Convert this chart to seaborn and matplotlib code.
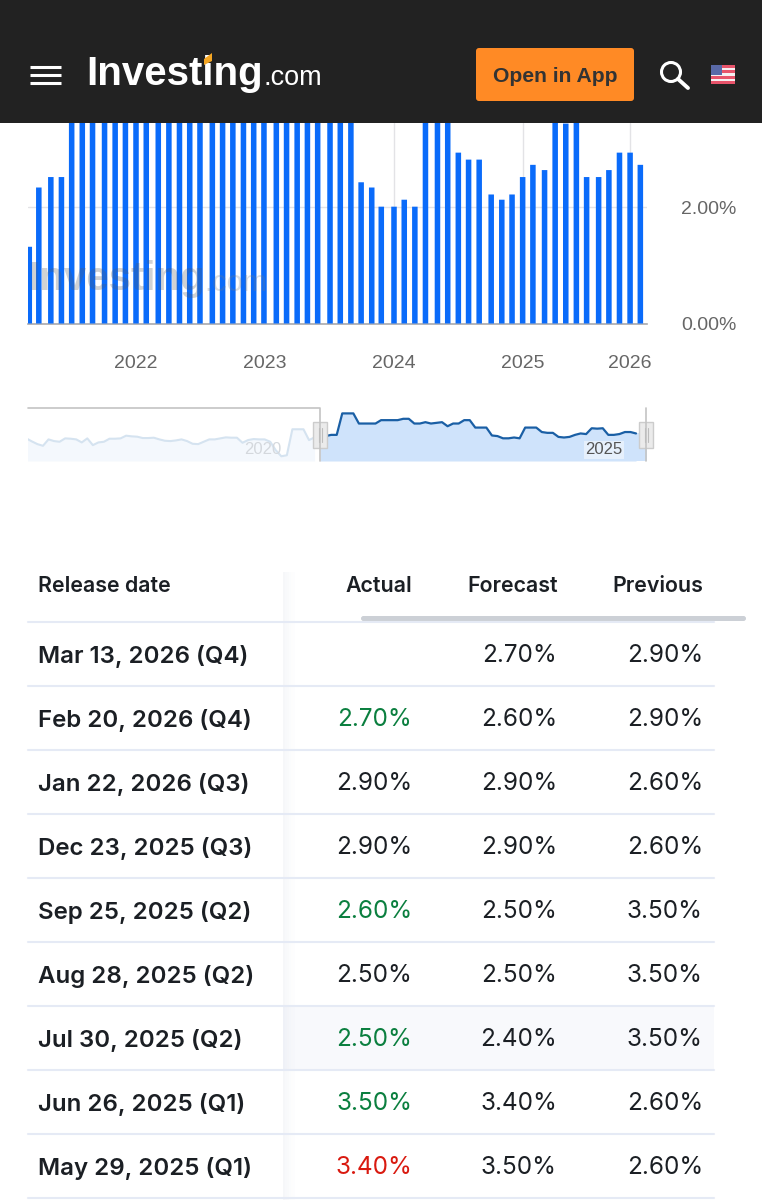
"""Investing.com phone screenshot: release history bars, range selector, table."""

import numpy as np
import pandas as pd
import matplotlib
matplotlib.use("Agg")
import matplotlib.pyplot as plt
from matplotlib import font_manager
from matplotlib.patches import Rectangle, FancyBboxPatch, Circle, Polygon
import seaborn as sns

# release position in days relative to the 2022 tick
release_day = [
    -302, -275, -241, -211, -182, -152, -123, -89, -59, -30, 0, 29, 63, 93, 123,
    152, 181, 216, 245, 274, 304, 333, 362, 397, 426, 456, 485, 514, 549, 578,
    608, 637, 667, 694, 730, 759, 789, 819, 853, 882, 912, 941, 971, 1005, 1035,
    1064, 1094, 1123, 1156, 1186, 1216, 1246, 1275, 1309, 1338, 1368, 1398, 1427,
]
# values above about 3.45 are cut off by the header, those come from the navigator line
release_value = [
    1.32, 2.34, 2.52, 2.52, 5.7, 5.7, 5.7, 4.2, 4.2, 4.2, 4.2, 4.7, 4.7, 4.7, 4.7,
    4.9, 4.9, 4.2, 4.2, 4.4, 4.2, 4.3, 4.4, 3.8, 4.2, 4.2, 4.7, 4.7, 3.6,
    3.6, 3.6, 2.43, 2.34, 2.01, 2.01, 2.13, 2.01, 3.6, 3.6, 3.6, 2.94, 2.82, 2.82,
    2.22, 2.13, 2.22, 2.52, 2.73, 2.64, 3.5, 3.44, 3.5, 2.52, 2.52, 2.64, 2.94, 2.94, 2.73,
]
year_ticks = [0, 365, 730, 1094, 1398]
year_labels = ["2022", "2023", "2024", "2025", "2026"]

# navigator history before the selected range
history_value = [
    2.0, 1.55, 1.15, 0.9, 1.85, 1.6, 1.5, 2.0, 1.95, 1.85, 1.4, 2.0, 1.0, 1.4,
    1.5, 1.95, 1.95, 2.0, 2.4, 2.3, 2.25, 2.05, 2.05, 2.1, 1.85, 1.65, 1.6, 1.7,
    1.85, 1.6, 1.2, 1.15, 1.5, 1.85, 1.85, 2.0, 2.15, 2.1, 2.1, 1.35, 1.75, 1.9,
    1.85, 1.85, 1.5, 0.25, -0.65, -0.5, 3.35, 3.35, 3.35, 1.75, 2.15,
]

table_dates = [
    "Mar 13, 2026 (Q4)", "Feb 20, 2026 (Q4)", "Jan 22, 2026 (Q3)",
    "Dec 23, 2025 (Q3)", "Sep 25, 2025 (Q2)", "Aug 28, 2025 (Q2)",
    "Jul 30, 2025 (Q2)", "Jun 26, 2025 (Q1)", "May 29, 2025 (Q1)",
]
table_actual = ["", "2.70%", "2.90%", "2.90%", "2.60%", "2.50%", "2.50%", "3.50%", "3.40%"]
table_forecast = ["2.70%", "2.60%", "2.90%", "2.90%", "2.50%", "2.50%", "2.40%", "3.40%", "3.50%"]
table_previous = ["2.90%", "2.90%", "2.60%", "2.60%", "3.50%", "3.50%", "3.50%", "2.60%", "2.60%"]

BLUE = "#0A6BFA"
INK = "#1B1F24"
GREEN = "#0B7F3F"
RED = "#D91A10"
W, H = 762, 1200

sns.set_theme(style="white")
plt.rcParams["font.family"] = ["Liberation Sans", "DejaVu Sans"]

# logo looks condensed, narrow cut if it is there
installed = {f.name for f in font_manager.fontManager.ttflist}
if "Liberation Sans Narrow" in installed:
    LOGO_FONT, LOGO_SIZE = "Liberation Sans Narrow", 35
else:
    LOGO_FONT, LOGO_SIZE = "Liberation Sans", 29

fig = plt.figure(figsize=(W / 100, H / 100), dpi=100, facecolor="white")


def px_axes(left, top, right, bottom, **kw):
    return fig.add_axes([left / W, 1 - bottom / H, (right - left) / W, (bottom - top) / H], **kw)


# main bars
ax = px_axes(28, 123, 646.7, 323.5)
sns.barplot(
    data=pd.DataFrame({"day": release_day, "value": release_value}),
    x="day", y="value", native_scale=True, color=BLUE, saturation=1,
    width=0.58, ax=ax, zorder=3,
)
# pixel snapping makes the bar widths uneven
for bar in ax.patches:
    bar.set_snap(False)
    bar.set_linewidth(0)
ax.set_xlim(-305.6, 1445)
ax.set_ylim(0, 3.45)
ax.set_xlabel("")
ax.set_ylabel("")
ax.yaxis.tick_right()
ax.set_yticks([0, 2], ["0.00%", "2.00%"])
ax.set_xticks(year_ticks, year_labels)
ax.tick_params(axis="y", length=0, pad=25, labelsize=14, labelcolor="#666666")
ax.tick_params(axis="x", length=0, pad=22.5, labelsize=14, labelcolor="#666666")
ax.grid(True, color="#E3E3E6", lw=1)
ax.set_axisbelow(True)
for side in ["top", "left", "right"]:
    ax.spines[side].set_visible(False)
ax.spines["bottom"].set_color("#A9A9AD")
ax.spines["bottom"].set_linewidth(1.2)

# range navigator
nav = px_axes(28, 408, 646, 461)
hist_x = np.arange(-len(history_value), 0)
rel_x = np.arange(len(release_value))
nav.fill_between(hist_x, -1.35, history_value, color="#F4F8FD", lw=0)
nav.fill_between(rel_x, -1.35, release_value, color="#CFE3FB", lw=0)
nav.fill_between([rel_x[-1], 59], -1.35, release_value[-1], color="#CFE3FB", lw=0)
sns.lineplot(x=hist_x, y=history_value, color="#D5E3F0", lw=1.5, ax=nav, errorbar=None)
sns.lineplot(x=rel_x, y=release_value, color="#1A5FA5", lw=1.6, ax=nav, errorbar=None)
nav.set_xlim(-52.7, 58.8)
nav.set_ylim(-1.35, 6.5)
nav.axis("off")

# everything that is page furniture, in image pixels
ui = fig.add_axes([0, 0, 1, 1], zorder=10)
ui.set_xlim(0, W)
ui.set_ylim(H, 0)
ui.axis("off")
ui.patch.set_alpha(0)

# watermark
ui.text(28, 279, "Investing", fontsize=LOGO_SIZE, fontweight="bold", family=LOGO_FONT,
        color="#55595F", alpha=0.27, va="center", ha="left")
ui.text(204, 283, ".com", fontsize=21, color="#777B80", alpha=0.25, va="center", ha="left")

# header bar
ui.add_patch(Rectangle((0, 0), W, 123, color="#222222", lw=0))
for y in [67, 75, 82.5]:
    ui.plot([30, 61], [y, y], color="white", lw=2.2, solid_capstyle="butt")
ui.text(86, 74, "Investing", fontsize=LOGO_SIZE, fontweight="bold", family=LOGO_FONT,
        color="white", va="center", ha="left")
ui.text(263, 78, ".com", fontsize=19.5, color="white", va="center", ha="left")
ui.add_patch(Polygon([[204, 59], [212, 53], [212, 61], [204, 65]], color="#F5A623", lw=0, zorder=5))
ui.add_patch(FancyBboxPatch((478, 50), 154, 49, boxstyle="round,pad=2,rounding_size=3",
                            color="#FF8A25", lw=0))
ui.text(555, 76, "Open in App", fontsize=15.2, fontweight="bold", color="#333333",
        va="center", ha="center")
ui.add_patch(Circle((671, 72), 9.5, fill=False, ec="white", lw=2.2))
ui.plot([678, 688], [79, 88], color="white", lw=2.8, solid_capstyle="round")
for i in range(7):
    ui.add_patch(Rectangle((711, 65 + i * 2.72), 24, 2.72,
                           color="#E8546B" if i % 2 == 0 else "#F6F0F2", lw=0))
ui.add_patch(Rectangle((711, 65), 11, 10, color="#5A6AA8", lw=0))

# navigator frame and handles
ui.plot([28, 320, 320], [408, 408, 461], color="#C4C4C4", lw=1.2)
ui.plot([646, 646], [408, 461], color="#C4C4C4", lw=1.2)
ui.text(263, 450, "2020", fontsize=12, color="#D4D8DD", ha="center", va="center")
ui.text(604, 450, "2025", fontsize=12, color="#555555", ha="center", va="center",
        bbox=dict(fc="#E6F0FC", ec="none", pad=0.8))
for x in [320, 646]:
    ui.add_patch(Rectangle((x - 7, 422), 14, 26, fc="#EBEBEB", ec="#CCCCCC", lw=1))
    for dx in [-1.5, 1.5]:
        ui.plot([x + dx, x + dx], [428, 442], color="#BDBDBD", lw=0.8)

# table
TABLE_FONT = ["Inter", "Liberation Sans", "DejaVu Sans"]
row_height = 64
first_row = 656

ui.add_patch(Rectangle((283, 1006), 431, 64, color="#F8F9FC", lw=0))
for i in range(10):
    ui.plot([28, 714], [622 + i * row_height] * 2, color="#E5EAF5", lw=1.5)
for i, alpha in enumerate([0.05, 0.04, 0.03, 0.02, 0.012, 0.006]):
    ui.add_patch(Rectangle((283 + i * 2, 572), 2, 628, color="#5A6A9A", alpha=alpha, lw=0))
ui.add_patch(FancyBboxPatch((361, 616), 385, 5, boxstyle="round,pad=0,rounding_size=2.5",
                            color="#CCD0D6", lw=0))

ui.text(38, 586, "Release date", fontsize=15.4, fontweight="semibold", color=INK,
        family=TABLE_FONT, va="center", ha="left")
for right, label in zip([412, 558, 703], ["Actual", "Forecast", "Previous"]):
    ui.text(right, 586, label, fontsize=15.4, fontweight="semibold", color=INK,
            family=TABLE_FONT, va="center", ha="right")

for i, date in enumerate(table_dates):
    y = first_row + i * row_height
    ui.text(38, y, date, fontsize=17.3, fontweight="semibold", color=INK,
            family=TABLE_FONT, va="center", ha="left")
    actual = table_actual[i]
    colour = INK
    if actual and float(actual[:-1]) > float(table_forecast[i][:-1]):
        colour = GREEN
    elif actual and float(actual[:-1]) < float(table_forecast[i][:-1]):
        colour = RED
    ui.text(412, y, actual, fontsize=17.5, color=colour, family=TABLE_FONT, va="center", ha="right")
    ui.text(557, y, table_forecast[i], fontsize=17.5, color=INK, family=TABLE_FONT, va="center", ha="right")
    ui.text(703, y, table_previous[i], fontsize=17.5, color=INK, family=TABLE_FONT, va="center", ha="right")

fig.savefig("out.png", dpi=100)
